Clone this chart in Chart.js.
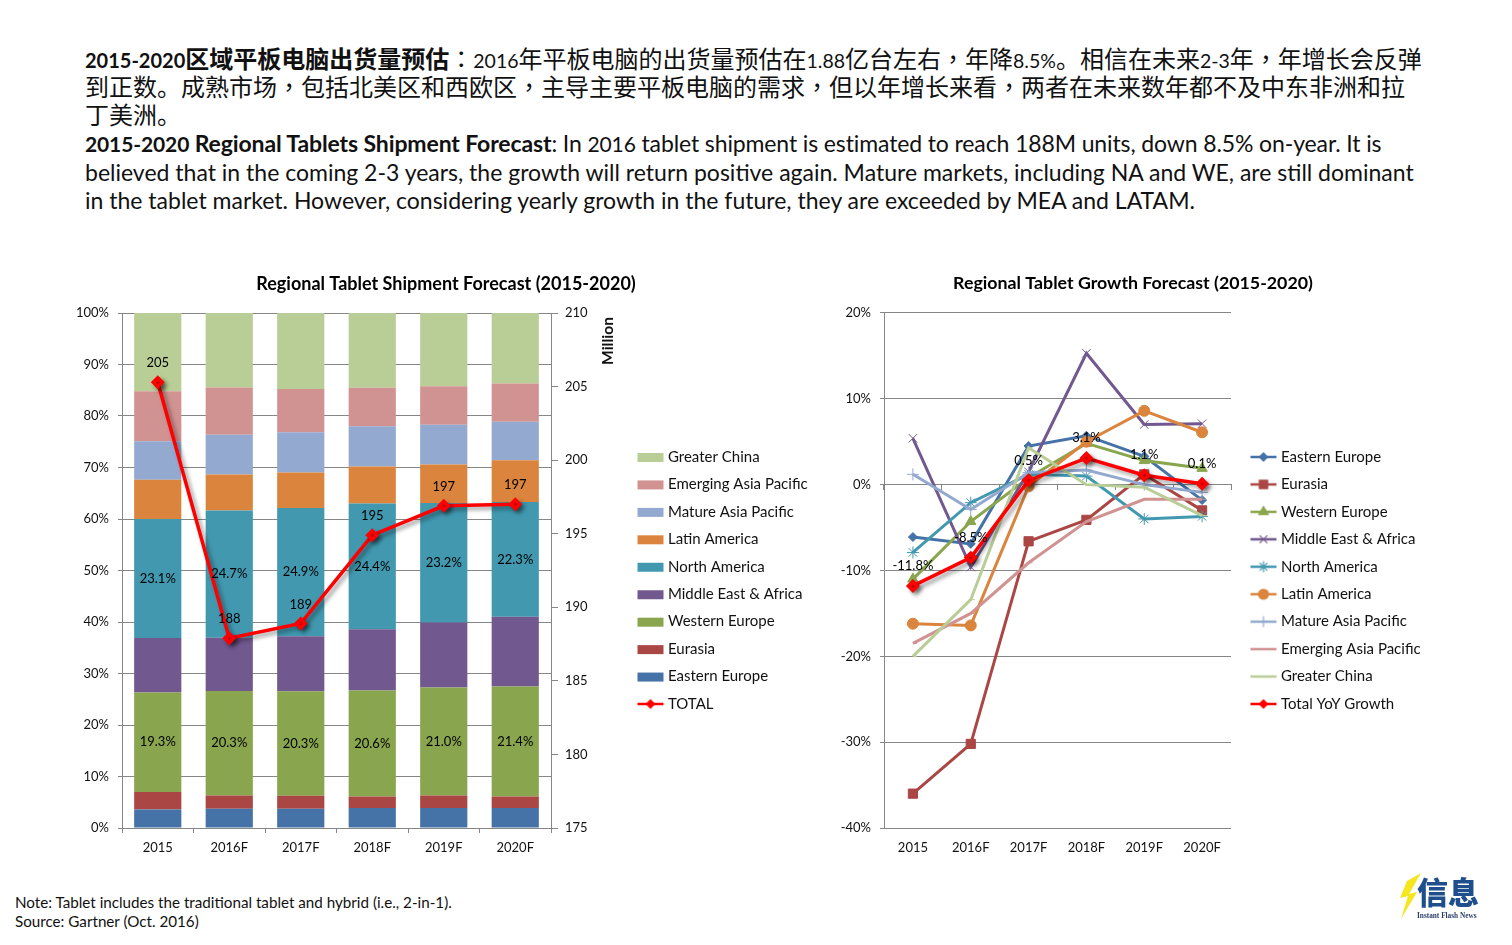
<!DOCTYPE html>
<html lang="zh-CN">
<head>
<meta charset="utf-8">
<title>Regional Tablet Forecast</title>
<script src="https://cdn.jsdelivr.net/npm/chart.js@4/dist/chart.umd.js"></script>
<style>
    html, body { margin: 0; padding: 0; background: #fff; overflow: hidden; }
    body { width: 1512px; height: 945px; position: relative; font-family: Lato, "Noto Sans CJK SC", sans-serif; color: #111; }
    canvas { position: absolute; }
    .line { position: absolute; left: 85px; white-space: nowrap; line-height: 28px; }
    .zh { font-size: 24px; font-family: "Noto Sans CJK SC", sans-serif; }
    .en { font-size: 23px; }
    .num { font-family: Lato, sans-serif; font-size: 19.5px; }
    /* the comma and colon sit centred in their box in the original */
    .p { font-family: "Noto Sans CJK TC", sans-serif; }
    .note { position: absolute; left: 15px; font-size: 15.2px; white-space: nowrap; line-height: 18px; }
    #million { position: absolute; left: 577px; top: 332px; width: 60px; text-align: center; font-weight: bold; font-size: 15.5px; line-height: 18px; transform: rotate(-90deg); }
    #logoWord { position: absolute; left: 1417px; top: 872px; font-size: 31px; line-height: 38px; font-weight: 900; color: #1f4e8c; font-family: "Noto Sans CJK SC", sans-serif; }
    #logoSub { position: absolute; left: 1417px; top: 911px; font-size: 7.3px; line-height: 9px; font-weight: bold; color: #2b3f66; font-family: "Liberation Serif", serif; white-space: nowrap; }
    #bolt { position: absolute; left: 1398px; top: 872px; }
</style>
</head>
<body>
<div class="line zh" style="top:44px"><b><span class="num" style="font-size:20px">2015-2020</span>区域平板电脑出货量预估</b><span class="p" lang="zh-TW">：</span><span class="num">2016</span>年平板电脑的出货量预估在<span class="num">1.88</span>亿台左右<span class="p" lang="zh-TW">，</span>年降<span class="num">8.5%</span>。相信在未来<span class="num">2-3</span>年<span class="p" lang="zh-TW">，</span>年增长会反弹</div>
<div class="line zh" style="top:72px">到正数。成熟市场<span class="p" lang="zh-TW">，</span>包括北美区和西欧区<span class="p" lang="zh-TW">，</span>主导主要平板电脑的需求<span class="p" lang="zh-TW">，</span>但以年增长来看<span class="p" lang="zh-TW">，</span>两者在未来数年都不及中东非洲和拉</div>
<div class="line zh" style="top:100px">丁美洲。</div>
<div class="line en" style="top:129px;letter-spacing:-0.12px"><b><span class="num" style="font-size:21px">2015-2020</span> Regional Tablets Shipment Forecast</b>: In <span class="num" style="font-size:21px">2016</span> tablet shipment is estimated to reach 188M units, down 8.5% on-year. It is</div>
<div class="line en" style="top:158px">believed that in the coming 2-3 years, the growth will return positive again. Mature markets, including NA and WE, are still dominant</div>
<div class="line en" style="top:186px">in the tablet market. However, considering yearly growth in the future, they are exceeded by MEA and LATAM.</div>

<canvas id="shipmentChart" width="772" height="600" style="left:60px;top:270px"></canvas>
<canvas id="growthChart" width="586" height="600" style="left:840px;top:270px"></canvas>
<div id="million">Million</div>

<div class="note" style="top:893px">Note: Tablet includes the traditional tablet and hybrid (i.e., 2-in-1).</div>
<div class="note" style="top:912px">Source: Gartner (Oct. 2016)</div>

<svg id="bolt" width="24" height="48" viewBox="0 0 24 48"><polygon points="23,1 9,9 2,26 10,24 3,47 19,20 11,22" fill="#f5e61e"/></svg>
<div id="logoWord">信息</div>
<div id="logoSub">Instant Flash News</div>

<script>
// Data
const years = ['2015', '2016F', '2017F', '2018F', '2019F', '2020F'];
const regions = ['Eastern Europe', 'Eurasia', 'Western Europe', 'Middle East & Africa', 'North America',
    'Latin America', 'Mature Asia Pacific', 'Emerging Asia Pacific', 'Greater China'];
const regionColors = ['#4572a7', '#aa4643', '#89a54e', '#71588f', '#4198af', '#db843d', '#93a9cf', '#d19392', '#b9cd96'];
const regionMarkers = ['rectRot', 'rect', 'triangle', 'crossRot', 'star', 'circle', 'cross', 'dash', 'dash'];
const totalColor = '#ff0000';

// share of shipments, percent
const shareEasternEurope = [3.6, 3.75, 3.75, 3.9, 3.9, 3.9];
const shareEurasia = [3.4, 2.55, 2.5, 2.2, 2.4, 2.2];
const shareWesternEurope = [19.3, 20.3, 20.3, 20.6, 21.0, 21.4];
const shareMiddleEastAfrica = [10.6, 10.35, 10.7, 11.9, 12.6, 13.5];
const shareNorthAmerica = [23.1, 24.7, 24.9, 24.4, 23.2, 22.3];
const shareLatinAmerica = [7.6, 7.0, 6.9, 7.2, 7.5, 8.1];
const shareMatureAsia = [7.5, 7.7, 7.8, 7.8, 7.7, 7.5];
const shareEmergingAsia = [9.7, 9.2, 8.4, 7.5, 7.5, 7.4];
const shareGreaterChina = [15.2, 14.5, 14.8, 14.5, 14.2, 13.7];
const totalShipments = [205.3, 187.9, 188.9, 194.9, 196.9, 197.0];

// yoy growth, percent
const growthEasternEurope = [-6.1, -6.9, 4.5, 5.7, 3.3, -1.8];
const growthEurasia = [-36.0, -30.2, -6.6, -4.1, 1.2, -3.0];
const growthWesternEurope = [-11.0, -4.3, 0.8, 4.8, 2.8, 1.9];
const growthMiddleEastAfrica = [5.4, -9.6, 1.5, 15.3, 7.0, 7.1];
const growthNorthAmerica = [-7.9, -2.1, 1.2, 1.0, -4.0, -3.7];
const growthLatinAmerica = [-16.2, -16.4, -0.2, 5.0, 8.6, 6.1];
const growthMatureAsia = [1.2, -2.9, 1.4, 1.7, 0.0, -0.9];
const growthEmergingAsia = [-18.5, -15.0, -9.1, -4.3, -1.7, -1.7];
const growthGreaterChina = [-20.0, -13.4, 4.3, 0.0, -0.3, -3.6];
const growthTotal = [-11.8, -8.5, 0.5, 3.1, 1.1, 0.1];

const regionShares = [shareEasternEurope, shareEurasia, shareWesternEurope, shareMiddleEastAfrica, shareNorthAmerica,
    shareLatinAmerica, shareMatureAsia, shareEmergingAsia, shareGreaterChina];
const regionGrowth = [growthEasternEurope, growthEurasia, growthWesternEurope, growthMiddleEastAfrica, growthNorthAmerica,
    growthLatinAmerica, growthMatureAsia, growthEmergingAsia, growthGreaterChina];

const axisGray = '#868686';
const textColor = '#111111';
const markerRadius = { rectRot: 4.5, rect: 6.5, triangle: 6, crossRot: 6, star: 6, circle: 5.5, cross: 6, dash: 4 };
Chart.defaults.font.family = 'Lato, sans-serif';
Chart.defaults.color = textColor;
Chart.defaults.animation = false;

// legend swatch: a short line with the series marker, or a plain bar
function lineSwatch(color, marker) {
    const c = document.createElement('canvas');
    c.width = 28;
    c.height = 14;
    const ctx = c.getContext('2d');
    ctx.strokeStyle = color;
    ctx.fillStyle = color;
    ctx.lineWidth = 2.5;
    ctx.beginPath();
    ctx.moveTo(1, 7);
    ctx.lineTo(27, 7);
    ctx.stroke();
    ctx.lineWidth = 1.2;
    Chart.helpers.drawPoint(ctx, { pointStyle: marker, radius: markerRadius[marker] * 0.9, borderWidth: 1.2, rotation: 0 }, 14, 7);
    return c;
}

function barSwatch(color) {
    const c = document.createElement('canvas');
    c.width = 28;
    c.height = 14;
    const ctx = c.getContext('2d');
    ctx.fillStyle = color;
    ctx.fillRect(1, 3, 26, 9);
    return c;
}

// shows value labels next to bars and points, total lines get a soft shadow
const markupPlugin = {
    id: 'markup',
    beforeDatasetDraw: function (chart, args) {
        if (chart.data.datasets[args.index].softShadow) {
            const ctx = chart.ctx;
            ctx.save();
            ctx.shadowColor = 'rgba(0,0,0,0.4)';
            ctx.shadowBlur = 4;
            ctx.shadowOffsetX = 3;
            ctx.shadowOffsetY = 3;
        }
    },
    afterDatasetDraw: function (chart, args) {
        if (chart.data.datasets[args.index].softShadow) {
            chart.ctx.restore();
        }
    },
    afterDatasetsDraw: function (chart) {
        const ctx = chart.ctx;
        chart.data.datasets.forEach(function (ds, i) {
            if (!ds.valueLabels) return;
            chart.getDatasetMeta(i).data.forEach(function (el, j) {
                const p = el.getCenterPoint();
                ctx.save();
                ctx.font = '13px Lato, sans-serif';
                ctx.fillStyle = '#000';
                ctx.textAlign = 'center';
                ctx.textBaseline = 'middle';
                ctx.fillText(ds.valueLabels[j], p.x, p.y + (ds.valueLabelShift || 0));
                ctx.restore();
            });
        });
    },
    // legend sits beside the plot at a fixed spot, title centres on the whole canvas
    afterLayout: function (chart, args, opts) {
        chart.legend.left = opts.legendLeft;
        chart.legend.right = chart.width;
        chart.legend.top = opts.legendTop;
        chart.legend.bottom = chart.height;
        chart.titleBlock.left = 0;
        chart.titleBlock.right = chart.width;
    }
};

const legendLabels = {
    usePointStyle: true,
    pointStyleWidth: 20,
    padding: 12.45,
    font: { size: 15 },
    color: textColor,
    // regions from the top of the stack down, the total comes last
    sort: function (a, b) {
        const last = regions.length;
        if (a.datasetIndex === last) return 1;
        if (b.datasetIndex === last) return -1;
        return b.datasetIndex - a.datasetIndex;
    }
};

function fixedWidth(w) {
    return function (scale) { scale.width = w; };
}

function fixedHeight(h) {
    return function (scale) { scale.height = h; };
}

const shipmentSets = regions.map(function (name, i) {
    const set = {
        type: 'bar',
        label: name,
        data: regionShares[i],
        backgroundColor: regionColors[i],
        pointStyle: barSwatch(regionColors[i]),
        yAxisID: 'y',
        order: 2,
        barPercentage: 0.66,
        categoryPercentage: 1
    };
    if (name === 'Western Europe' || name === 'North America') {
        set.valueLabels = regionShares[i].map(function (v) { return v.toFixed(1) + '%'; });
    }
    return set;
});
shipmentSets.push({
    type: 'line',
    label: 'TOTAL',
    data: totalShipments,
    borderColor: totalColor,
    backgroundColor: totalColor,
    borderWidth: 3.5,
    tension: 0,
    yAxisID: 'y1',
    order: 1,
    pointStyle: 'rectRot',
    pointRadius: markerRadius.rectRot,
    softShadow: true,
    valueLabels: totalShipments.map(function (v) { return v.toFixed(0); }),
    valueLabelShift: -19
});

new Chart(document.getElementById('shipmentChart'), {
    type: 'bar',
    data: { labels: years, datasets: shipmentSets },
    plugins: [markupPlugin],
    options: {
        responsive: false,
        layout: { padding: { left: 0, right: 211, top: 0, bottom: 0 } },
        plugins: {
            title: {
                display: true,
                text: 'Regional Tablet Shipment Forecast (2015-2020)',
                font: { size: 18, weight: 'bold' },
                color: '#000',
                padding: { top: 3, bottom: 18.4 }
            },
            legend: {
                position: 'chartArea',
                align: 'start',
                labels: Object.assign({}, legendLabels, {
                    generateLabels: function (chart) {
                        return Chart.defaults.plugins.legend.labels.generateLabels(chart).map(function (item) {
                            if (item.datasetIndex === regions.length) {
                                item.pointStyle = lineSwatch(totalColor, 'rectRot');
                            }
                            return item;
                        });
                    }
                })
            },
            tooltip: { enabled: false },
            markup: { legendLeft: 568, legendTop: 167 }
        },
        scales: {
            x: {
                stacked: true,
                afterFit: fixedHeight(42),
                grid: { drawOnChartArea: false, offset: true, tickColor: axisGray, tickLength: 5 },
                border: { color: axisGray },
                ticks: { font: { size: 13 }, color: textColor, padding: 7, maxRotation: 0 }
            },
            y: {
                stacked: true,
                min: 0,
                max: 100,
                afterFit: fixedWidth(62),
                grid: { color: axisGray, tickColor: axisGray, tickLength: 4 },
                border: { color: axisGray },
                ticks: {
                    stepSize: 10,
                    font: { size: 13 },
                    color: textColor,
                    padding: 9,
                    callback: function (v) { return v + '%'; }
                }
            },
            y1: {
                position: 'right',
                min: 175,
                max: 210,
                afterFit: fixedWidth(70),
                grid: { drawOnChartArea: false, tickColor: axisGray, tickLength: 7 },
                border: { color: axisGray },
                ticks: { stepSize: 5, font: { size: 13 }, color: textColor, padding: 7 }
            }
        }
    }
});

const growthSets = regions.map(function (name, i) {
    return {
        label: name,
        data: regionGrowth[i],
        borderColor: regionColors[i],
        backgroundColor: regionColors[i],
        borderWidth: 3,
        tension: 0,
        order: regions.length - i + 1,
        pointStyle: regionMarkers[i],
        pointRadius: markerRadius[regionMarkers[i]],
        pointBorderWidth: 1
    };
});
growthSets.push({
    label: 'Total YoY Growth',
    data: growthTotal,
    borderColor: totalColor,
    backgroundColor: totalColor,
    borderWidth: 3.5,
    tension: 0,
    order: 1,
    pointStyle: 'rectRot',
    pointRadius: markerRadius.rectRot,
    softShadow: true,
    valueLabels: growthTotal.map(function (v) { return v.toFixed(1) + '%'; }),
    valueLabelShift: -20
});

new Chart(document.getElementById('growthChart'), {
    type: 'line',
    data: { labels: years, datasets: growthSets },
    plugins: [markupPlugin],
    options: {
        responsive: false,
        layout: { padding: { left: 0, right: 195, top: 0, bottom: 0 } },
        plugins: {
            title: {
                display: true,
                text: 'Regional Tablet Growth Forecast (2015-2020)',
                font: { size: 17.8, weight: 'bold' },
                color: '#000',
                padding: { top: 3, bottom: 18.6 }
            },
            legend: {
                position: 'chartArea',
                align: 'start',
                labels: Object.assign({}, legendLabels, {
                    generateLabels: function (chart) {
                        return Chart.defaults.plugins.legend.labels.generateLabels(chart).map(function (item) {
                            const marker = item.datasetIndex === regions.length ? 'rectRot' : regionMarkers[item.datasetIndex];
                            item.pointStyle = lineSwatch(item.strokeStyle, marker);
                            return item;
                        });
                    },
                    sort: function (a, b) { return a.datasetIndex - b.datasetIndex; }
                })
            },
            tooltip: { enabled: false },
            markup: { legendLeft: 401, legendTop: 167 }
        },
        scales: {
            x: {
                offset: true,
                afterFit: fixedHeight(42),
                grid: { display: false },
                border: { display: false },
                ticks: { font: { size: 13 }, color: textColor, padding: 4, maxRotation: 0 }
            },
            // zero line with its tick marks, the labels stay at the bottom
            xZero: {
                type: 'category',
                axis: 'x',
                position: { y: 0 },
                offset: true,
                grid: { drawOnChartArea: false, offset: true, tickColor: axisGray, tickLength: 5 },
                border: { color: axisGray },
                ticks: { display: false }
            },
            y: {
                min: -40,
                max: 20,
                afterFit: fixedWidth(44),
                grid: { color: axisGray, tickColor: axisGray, tickLength: 4 },
                border: { color: axisGray },
                ticks: {
                    stepSize: 10,
                    font: { size: 13 },
                    color: textColor,
                    padding: 9,
                    callback: function (v) { return v + '%'; }
                }
            }
        }
    }
});
</script>
</body>
</html>
